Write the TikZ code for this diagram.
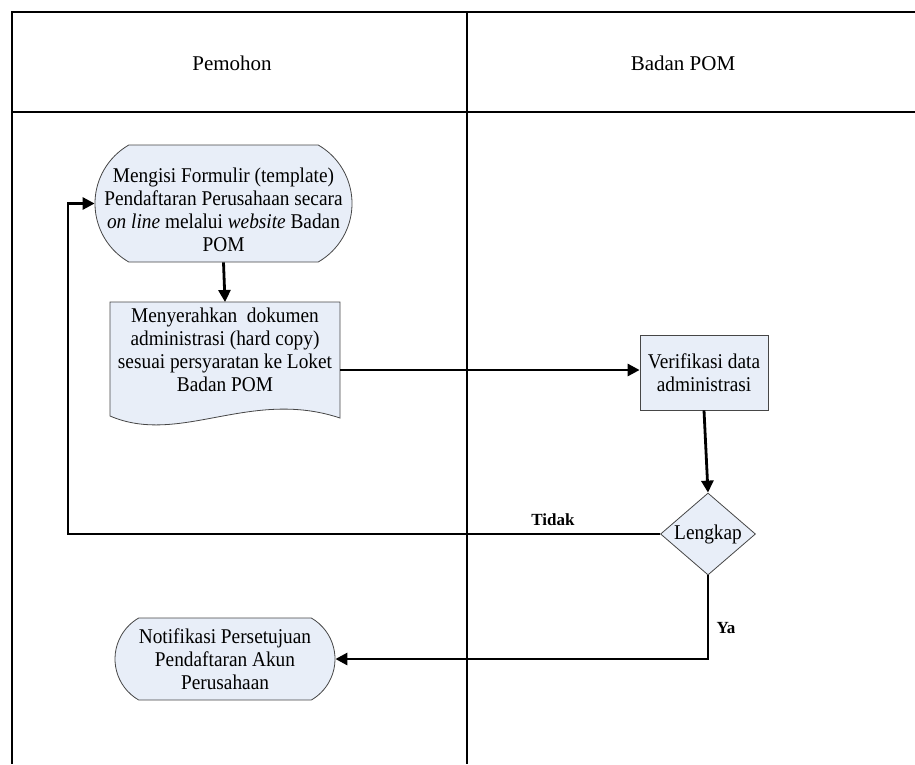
\documentclass[tikz,border=0pt]{standalone}
\usepackage{fontspec}
\setmainfont{Liberation Serif}
\newfontfamily\boxfont[FakeStretch=0.92]{Liberation Serif}
\usetikzlibrary{shapes.misc,shapes.geometric,arrows.meta}
\definecolor{boxfill}{RGB}{232,238,248}
\definecolor{boxline}{RGB}{70,70,70}
\tikzset{
  frameline/.style={line width=2.6pt, black},
  txt/.style={font=\boxfont\fontsize{21}{22.8}\selectfont, align=center, inner sep=0pt},
  terminal/.style={rounded rectangle, rounded rectangle arc length=120, draw=boxline, fill=boxfill, line width=0.8pt, inner sep=0pt},
  procbox/.style={txt, rectangle, draw=boxline, fill=boxfill, line width=0.8pt},
  decision/.style={txt, diamond, draw=boxline, fill=boxfill, line width=0.8pt, aspect=1.16},
  flow/.style={line width=2.8pt, -{Triangle[length=12pt,width=12pt]}},
  lbl/.style={font=\fontsize{17}{20}\selectfont\bfseries, inner sep=0pt},
  head/.style={font=\fontsize{21}{22}\selectfont, inner sep=0pt}
}
\begin{document}
\begin{tikzpicture}[x=1pt,y=-1pt]
\useasboundingbox (0,0) rectangle (915,764);
% swimlane frame
\draw[frameline] (915,12) -- (12,12) -- (12,764);
\draw[frameline] (467,12) -- (467,764);
\draw[frameline] (12,112) -- (915,112);
\node[head] (h1) at (232,63) {Pemohon};
\node[head] (h2) at (683,63) {Badan POM};

% start terminal
\node[terminal, minimum width=257pt, minimum height=117pt] (start) at (223.5,203.5) {};
\node[txt] (starttext) at (223.5,210)
  {Mengisi Formulir (template)\\Pendaftaran Perusahaan secara\\\textit{on line} melalui \textit{website} Badan\\POM};

% document shape
\coordinate (doc) at (225,302);
\fill[boxfill] (110,302) -- (340,302) -- (340,418) .. controls (250,388) and (180,446) .. (110,416) -- cycle;
\draw[boxline, line width=0.8pt] (110,302) -- (340,302) -- (340,418) .. controls (250,388) and (180,446) .. (110,416) -- cycle;
\node[txt] (doctext) at (225,350)
  {Menyerahkan\ \ dokumen\\administrasi (hard copy)\\sesuai persyaratan ke Loket\\Badan POM};
\coordinate (docout) at (340,370);

% verify box
\node[procbox, minimum width=128pt, minimum height=75pt] (verif) at (704,372.5)
  {Verifikasi data\\administrasi};

% decision
\node[decision, minimum width=95pt, minimum height=82pt] (dec) at (708,534) {Lengkap};

% notification terminal
\node[terminal, minimum width=220pt, minimum height=82pt] (notif) at (225,659) {};
\node[txt] (notiftext) at (notif.center)
  {Notifikasi Persetujuan\\Pendaftaran Akun\\Perusahaan};

% connectors
\coordinate (back) at (68,534);
\draw[flow] (start.south) -- (doc);
\draw[flow] (docout) -- (verif.west |- docout);
\draw[flow] (verif.south) -- (dec.north);
\draw[flow] (dec.west) -- (back) |- (start.west);
\draw[flow] (dec.south) |- (notif.east);

\node[lbl] (tidak) at (553,520) {Tidak};
\node[lbl] (ya) at (726,628) {Ya};
\end{tikzpicture}
\end{document}
